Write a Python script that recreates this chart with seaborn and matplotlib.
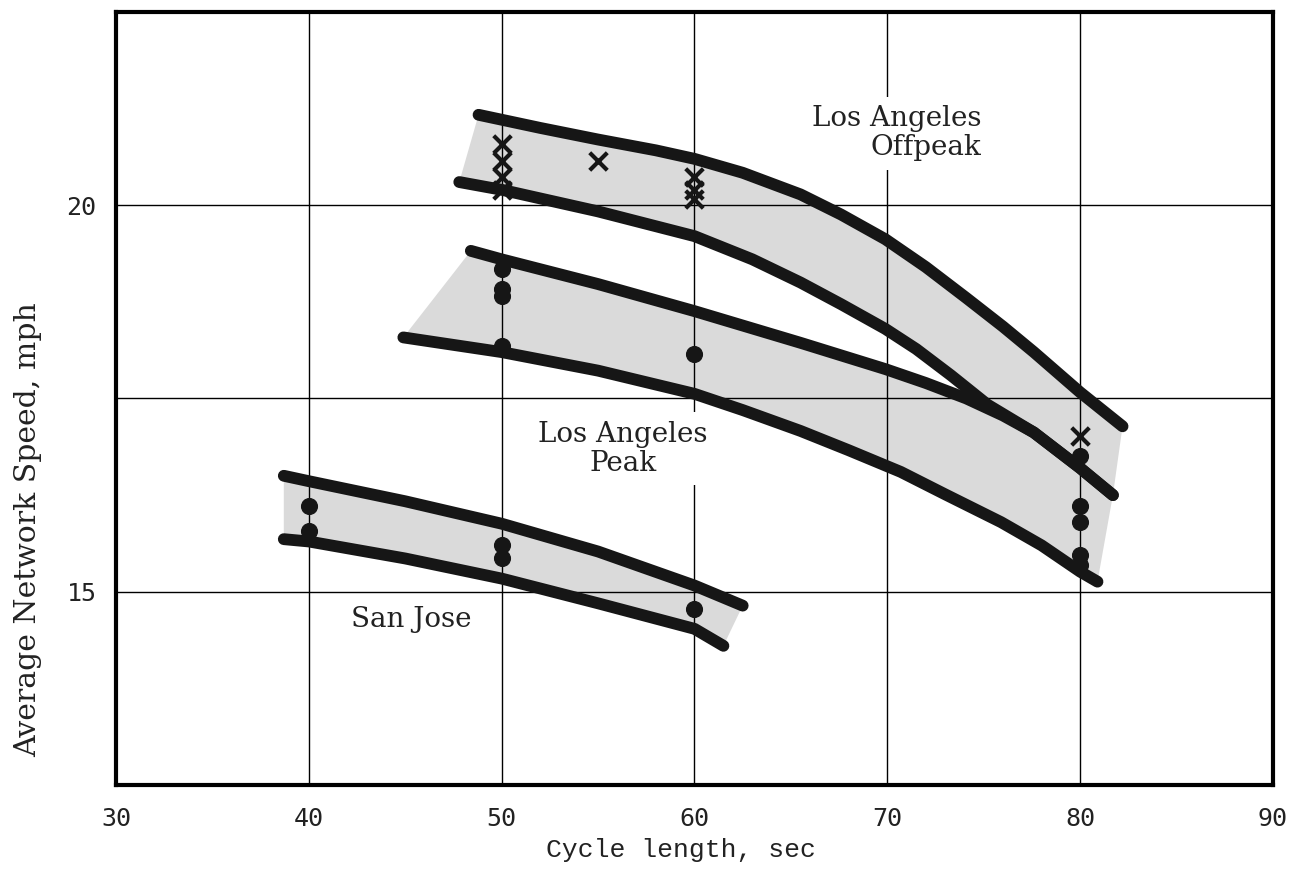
import numpy as np
import pandas as pd
import seaborn as sns
import matplotlib.pyplot as plt

# band boundaries (cycle length sec, speed mph)
offpeak_upper_x = [48.8, 52, 55, 58, 60, 62.5, 65.5, 67.6, 69.9, 72, 74.1, 76, 77.6, 80, 82.2]
offpeak_upper_y = [21.17, 21.0, 20.85, 20.71, 20.6, 20.42, 20.14, 19.88, 19.56, 19.2, 18.8, 18.43, 18.1, 17.58, 17.14]
offpeak_lower_x = [47.8, 50, 55, 60, 63, 65.5, 67.6, 69.9, 71.5, 73.3, 75.2, 77.6, 80, 81.7]
offpeak_lower_y = [20.30, 20.2, 19.92, 19.6, 19.3, 19.0, 18.72, 18.40, 18.14, 17.8, 17.42, 17.06, 16.6, 16.25]

peak_upper_x = [48.4, 50, 55, 60, 65.5, 69.9, 72, 74.1, 76, 77.6, 80, 81.7]
peak_upper_y = [19.41, 19.30, 18.98, 18.63, 18.22, 17.88, 17.70, 17.50, 17.28, 17.06, 16.6, 16.25]
peak_lower_x = [44.9, 50, 55, 60, 62.5, 65.5, 68, 70.7, 73, 75.9, 78, 80, 80.9]
peak_lower_y = [18.29, 18.1, 17.86, 17.56, 17.35, 17.08, 16.83, 16.55, 16.26, 15.9, 15.6, 15.26, 15.13]

sj_upper_x = [38.7, 40, 45, 50, 55, 60, 62.5]
sj_upper_y = [16.5, 16.43, 16.17, 15.88, 15.52, 15.08, 14.82]
sj_lower_x = [38.7, 40, 45, 50, 55, 60, 61.5]
sj_lower_y = [15.68, 15.65, 15.43, 15.17, 14.85, 14.52, 14.30]

# observed points
offpeak_x = [50, 50, 50, 50, 55, 60, 60, 60, 80]
offpeak_y = [20.79, 20.57, 20.37, 20.2, 20.57, 20.37, 20.2, 20.08, 17.02]
peak_x = [50, 50, 50, 50, 60, 80, 80, 80, 80, 80]
peak_y = [19.17, 18.91, 18.82, 18.18, 18.07, 16.76, 16.11, 15.90, 15.47, 15.34]
sj_x = [40, 40, 50, 50, 60]
sj_y = [16.11, 15.78, 15.6, 15.43, 14.78]

x_ticks = [30, 40, 50, 60, 70, 80, 90]
y_ticks = [12.5, 15, 17.5, 20, 22.5]
y_tick_labels = ['', '15', '', '20', '']

sns.set_theme(style='white')
plt.rcParams['font.family'] = ['DejaVu Serif']

fig = plt.figure(figsize=(12.98, 8.69), dpi=100)
ax = fig.add_axes([0.0894, 0.0967, 0.8913, 0.8895])

band_color = '#dadada'
line_color = '#161616'

bands = [
    (offpeak_upper_x, offpeak_upper_y, offpeak_lower_x, offpeak_lower_y),
    (peak_upper_x, peak_upper_y, peak_lower_x, peak_lower_y),
    (sj_upper_x, sj_upper_y, sj_lower_x, sj_lower_y),
]

for ux, uy, lx, ly in bands:
    px = list(ux) + list(lx)[::-1]
    py = list(uy) + list(ly)[::-1]
    ax.fill(px, py, color=band_color, lw=0, zorder=1)
    for cx, cy in [(ux, uy), (lx, ly)]:
        sns.lineplot(x=cx, y=cy, ax=ax, color=line_color, lw=8.5,
                     estimator=None, sort=False, zorder=2)
        ax.lines[-1].set_solid_capstyle('round')
        ax.lines[-1].set_solid_joinstyle('round')

sns.scatterplot(x=offpeak_x, y=offpeak_y, ax=ax, marker='x', s=160,
                color=line_color, linewidth=3, zorder=3)
sns.scatterplot(x=peak_x + sj_x, y=peak_y + sj_y, ax=ax, marker='o', s=130,
                color=line_color, edgecolor=line_color, zorder=3)

ax.set_xlim(30, 90)
ax.set_ylim(12.5, 22.5)
ax.set_xticks(x_ticks)
ax.set_yticks(y_ticks)
ax.set_yticklabels(y_tick_labels)
ax.set_axisbelow('line')
ax.grid(True, color='black', lw=1.0)
ax.tick_params(length=0, labelsize=18, colors='#222222')
ax.tick_params(axis='x', pad=16)
ax.tick_params(axis='y', pad=14)
for lab in ax.get_xticklabels() + ax.get_yticklabels():
    lab.set_family('DejaVu Sans Mono')
for sp in ax.spines.values():
    sp.set_color('black')
    sp.set_linewidth(3)

ax.set_xlabel('Cycle length, sec', family='Liberation Mono', fontsize=19, color='#222222')
ax.xaxis.set_label_coords(0.488, -0.068)
ax.set_ylabel('Average Network Speed, mph', family='DejaVu Serif', fontsize=21.5, color='#222222')
ax.yaxis.set_label_coords(-0.064, 0.33)

box = dict(facecolor='white', edgecolor='none', pad=6)
ax.text(74.9, 20.93, 'Los Angeles\nOffpeak', ha='right', va='center', multialignment='right',
        fontsize=20, color='#222222', bbox=box, zorder=4, linespacing=1.1)
ax.text(56.3, 16.85, 'Los Angeles\nPeak', ha='center', va='center', multialignment='center',
        fontsize=20, color='#222222', bbox=box, zorder=4, linespacing=1.1)
ax.text(45.3, 14.64, 'San Jose', ha='center', va='center',
        fontsize=20, color='#222222', bbox=box, zorder=4)

fig.savefig('out.png', dpi=100)
